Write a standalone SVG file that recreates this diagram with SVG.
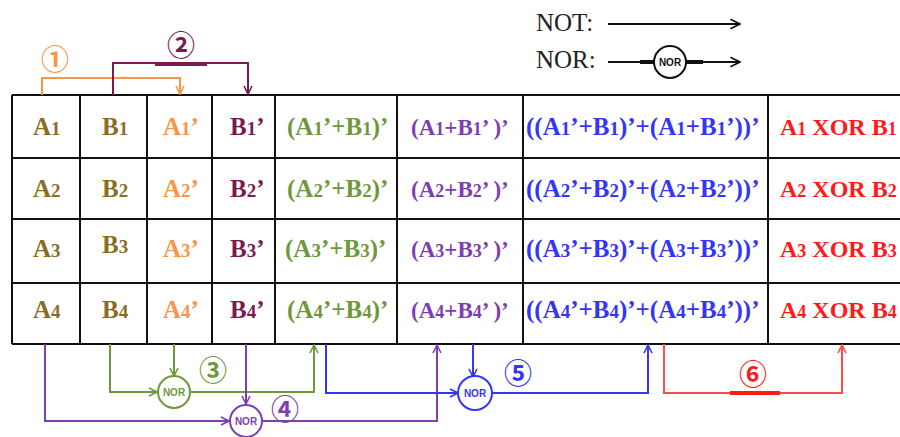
<svg xmlns="http://www.w3.org/2000/svg" width="900" height="437" viewBox="0 0 900 437">
<style>
.grid{stroke:#111;stroke-width:2;fill:none}
.t{font-family:"Liberation Serif","Times New Roman",serif;font-weight:bold;font-size:25px}
.s{font-size:19px}
.p{font-size:23px}.p .s{font-size:18px}
.r{font-size:24px}.r .s{font-size:18px}
.ol{fill:#8a6d1f}.or{fill:#f79646}.mg{fill:#7a1a4e}.gr{fill:#6f983c}.pu{fill:#7b3fb0}.bl{fill:#3535f5}.rd{fill:#ff1a1a}
.c{fill:none;stroke-width:2}
.num{font-family:"Noto Sans CJK JP","DejaVu Sans",sans-serif;font-size:28px;font-weight:bold;text-anchor:middle;dominant-baseline:central}
.nor{font-family:"Liberation Sans",Arial,sans-serif;font-size:10px;font-weight:bold;text-anchor:middle;dominant-baseline:central}
.leg{font-family:"Liberation Serif","Times New Roman",serif;font-size:25px;fill:#222}
</style>
<defs>
<marker id="m-or" viewBox="0 0 10 10" refX="9" refY="5" markerWidth="10" markerHeight="10" markerUnits="userSpaceOnUse" orient="auto"><path d="M1,1 L9,5 L1,9" fill="none" stroke="#f79646" stroke-width="1.6"/></marker>
<marker id="m-mg" viewBox="0 0 10 10" refX="9" refY="5" markerWidth="10" markerHeight="10" markerUnits="userSpaceOnUse" orient="auto"><path d="M1,1 L9,5 L1,9" fill="none" stroke="#7a1a4e" stroke-width="1.6"/></marker>
<marker id="m-gr" viewBox="0 0 10 10" refX="9" refY="5" markerWidth="10" markerHeight="10" markerUnits="userSpaceOnUse" orient="auto"><path d="M1,1 L9,5 L1,9" fill="none" stroke="#6f983c" stroke-width="1.6"/></marker>
<marker id="m-pu" viewBox="0 0 10 10" refX="9" refY="5" markerWidth="10" markerHeight="10" markerUnits="userSpaceOnUse" orient="auto"><path d="M1,1 L9,5 L1,9" fill="none" stroke="#7b3fb0" stroke-width="1.6"/></marker>
<marker id="m-bl" viewBox="0 0 10 10" refX="9" refY="5" markerWidth="10" markerHeight="10" markerUnits="userSpaceOnUse" orient="auto"><path d="M1,1 L9,5 L1,9" fill="none" stroke="#3535f5" stroke-width="1.6"/></marker>
<marker id="m-rd" viewBox="0 0 10 10" refX="9" refY="5" markerWidth="10" markerHeight="10" markerUnits="userSpaceOnUse" orient="auto"><path d="M1,1 L9,5 L1,9" fill="none" stroke="#ff4a4a" stroke-width="1.6"/></marker>
<marker id="m-bk" viewBox="0 0 10 10" refX="9" refY="5" markerWidth="12" markerHeight="12" markerUnits="userSpaceOnUse" orient="auto"><path d="M1,1 L9,5 L1,9" fill="none" stroke="#111" stroke-width="1.4"/></marker>
</defs>
<rect width="900" height="437" fill="#fff"/>

<g id="legend">
<text class="leg" x="536" y="31">NOT:</text>
<line x1="608" y1="24" x2="740" y2="24" stroke="#111" stroke-width="2" marker-end="url(#m-bk)"/>
<text class="leg" x="536" y="68">NOR:</text>
<line x1="608" y1="62" x2="740" y2="62" stroke="#111" stroke-width="2" marker-end="url(#m-bk)"/>
<line x1="640" y1="62" x2="703" y2="62" stroke="#111" stroke-width="4"/>
<circle cx="670" cy="62" r="16" fill="#fff" stroke="#111" stroke-width="2"/>
<text class="nor" x="670" y="62" fill="#111">NOR</text>
</g>

<g id="table">
<path class="grid" d="M12,95 H900 M12,158 H900 M12,219 H900 M12,283 H900 M12,344 H900 M12,95 V344 M80,95 V344 M147,95 V344 M212,95 V344 M275,95 V344 M397,95 V344 M523,95 V344 M768,95 V344"/>
</g>

<g id="cells" class="t">
<g id="row1">
<text class="ol" x="33" y="135">A<tspan class="s">1</tspan></text>
<text class="ol" x="102" y="135">B<tspan class="s">1</tspan></text>
<text class="or" x="163" y="135">A<tspan class="s">1</tspan>’</text>
<text class="mg" x="230" y="135">B<tspan class="s">1</tspan>’</text>
<text class="gr" x="287" y="135">(A<tspan class="s">1</tspan>’+B<tspan class="s">1</tspan>)’</text>
<text class="pu p" x="411" y="135">(A<tspan class="s">1</tspan>+B<tspan class="s">1</tspan>’ )’</text>
<text class="bl" x="526" y="135">((A<tspan class="s">1</tspan>’+B<tspan class="s">1</tspan>)’+(A<tspan class="s">1</tspan>+B<tspan class="s">1</tspan>’))’</text>
<text class="rd r" x="780" y="135">A<tspan class="s">1</tspan> XOR B<tspan class="s">1</tspan></text>
</g>
<g id="row2">
<text class="ol" x="33" y="197">A<tspan class="s">2</tspan></text>
<text class="ol" x="102" y="197">B<tspan class="s">2</tspan></text>
<text class="or" x="163" y="197">A<tspan class="s">2</tspan>’</text>
<text class="mg" x="230" y="197">B<tspan class="s">2</tspan>’</text>
<text class="gr" x="287" y="197">(A<tspan class="s">2</tspan>’+B<tspan class="s">2</tspan>)’</text>
<text class="pu p" x="411" y="197">(A<tspan class="s">2</tspan>+B<tspan class="s">2</tspan>’ )’</text>
<text class="bl" x="526" y="197">((A<tspan class="s">2</tspan>’+B<tspan class="s">2</tspan>)’+(A<tspan class="s">2</tspan>+B<tspan class="s">2</tspan>’))’</text>
<text class="rd r" x="780" y="197">A<tspan class="s">2</tspan> XOR B<tspan class="s">2</tspan></text>
</g>
<g id="row3">
<text class="ol" x="33" y="257">A<tspan class="s">3</tspan></text>
<text class="ol" x="102" y="253">B<tspan class="s">3</tspan></text>
<text class="or" x="163" y="257">A<tspan class="s">3</tspan>’</text>
<text class="mg" x="230" y="257">B<tspan class="s">3</tspan>’</text>
<text class="gr" x="285" y="257">(A<tspan class="s">3</tspan>’+B<tspan class="s">3</tspan>)’</text>
<text class="pu p" x="411" y="257">(A<tspan class="s">3</tspan>+B<tspan class="s">3</tspan>’ )’</text>
<text class="bl" x="526" y="257">((A<tspan class="s">3</tspan>’+B<tspan class="s">3</tspan>)’+(A<tspan class="s">3</tspan>+B<tspan class="s">3</tspan>’))’</text>
<text class="rd r" x="780" y="257">A<tspan class="s">3</tspan> XOR B<tspan class="s">3</tspan></text>
</g>
<g id="row4">
<text class="ol" x="33" y="318">A<tspan class="s">4</tspan></text>
<text class="ol" x="102" y="318">B<tspan class="s">4</tspan></text>
<text class="or" x="163" y="318">A<tspan class="s">4</tspan>’</text>
<text class="mg" x="230" y="318">B<tspan class="s">4</tspan>’</text>
<text class="gr" x="287" y="318">(A<tspan class="s">4</tspan>’+B<tspan class="s">4</tspan>)’</text>
<text class="pu p" x="411" y="318">(A<tspan class="s">4</tspan>+B<tspan class="s">4</tspan>’ )’</text>
<text class="bl" x="526" y="318">((A<tspan class="s">4</tspan>’+B<tspan class="s">4</tspan>)’+(A<tspan class="s">4</tspan>+B<tspan class="s">4</tspan>’))’</text>
<text class="rd r" x="780" y="318">A<tspan class="s">4</tspan> XOR B<tspan class="s">4</tspan></text>
</g>
</g>

<g id="connectors">
<path class="c" stroke="#f79646" d="M42,95 V78 H180 V94" marker-end="url(#m-or)"/>
<path class="c" stroke="#7a1a4e" d="M113,95 V63 H248 V94" marker-end="url(#m-mg)"/>
<line x1="155" y1="64" x2="207" y2="64" stroke="#7a1a4e" stroke-width="4"/>

<path class="c" stroke="#6f983c" d="M110,344 V392 H157" marker-end="url(#m-gr)"/>
<path class="c" stroke="#6f983c" d="M174,344 V376" marker-end="url(#m-gr)"/>
<path class="c" stroke="#6f983c" d="M191,392 H314 V345" marker-end="url(#m-gr)"/>

<path class="c" stroke="#7b3fb0" d="M45,344 V421 H229" marker-end="url(#m-pu)"/>
<path class="c" stroke="#7b3fb0" d="M246,344 V404" marker-end="url(#m-pu)"/>
<path class="c" stroke="#7b3fb0" d="M263,421 H437 V345" marker-end="url(#m-pu)"/>

<path class="c" stroke="#3535f5" d="M326,344 V393 H458" marker-end="url(#m-bl)"/>
<path class="c" stroke="#3535f5" d="M473,344 V377" marker-end="url(#m-bl)"/>
<path class="c" stroke="#3535f5" d="M492,393 H648 V345" marker-end="url(#m-bl)"/>

<path class="c" stroke="#ff4a4a" d="M664,344 V393 H842 V345" marker-end="url(#m-rd)"/>
<line x1="730" y1="393" x2="780" y2="393" stroke="#ff1a1a" stroke-width="4"/>
</g>

<g id="nor3">
<circle cx="174" cy="392" r="16" fill="#fff" stroke="#6f983c" stroke-width="2"/>
<text class="nor" x="174" y="392" fill="#6f983c">NOR</text>
</g>
<g id="nor4">
<circle cx="246" cy="421" r="16" fill="#fff" stroke="#7b3fb0" stroke-width="2"/>
<text class="nor" x="246" y="421" fill="#7b3fb0">NOR</text>
</g>
<g id="nor5">
<circle cx="475" cy="393" r="17" fill="#fff" stroke="#3535f5" stroke-width="2"/>
<text class="nor" x="475" y="393" fill="#3535f5">NOR</text>
</g>

<g id="labels">
<text class="num" x="55" y="58" fill="#f79646">①</text>
<text class="num" x="181" y="44" fill="#7a1a4e">②</text>
<text class="num" x="213" y="369" fill="#6f983c">③</text>
<text class="num" x="285" y="408" fill="#7b3fb0">④</text>
<text class="num" x="518" y="372" fill="#3535f5">⑤</text>
<text class="num" x="753" y="373" fill="#ff1a1a">⑥</text>
</g>
</svg>
